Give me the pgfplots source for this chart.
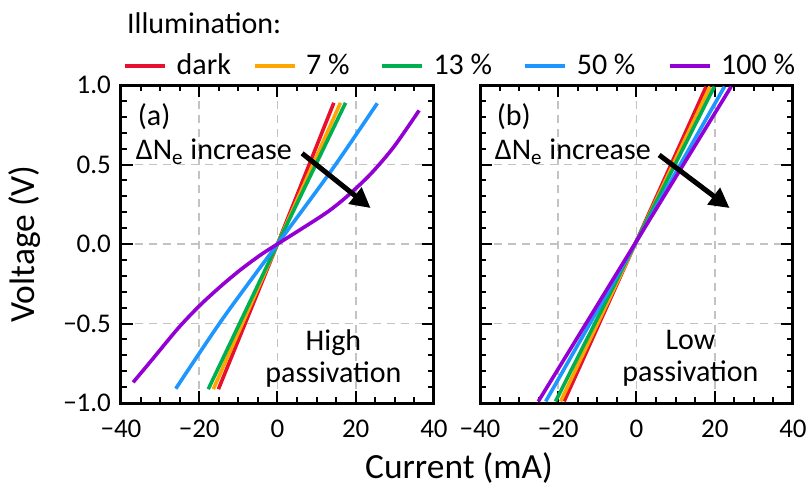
\documentclass[border=0pt]{standalone}
\usepackage{pgfplots}
\pgfplotsset{compat=1.18}
\usepackage{fontspec}
\setmainfont{Carlito}
\usetikzlibrary{arrows.meta}
\definecolor{cdark}{RGB}{232,17,45}
\definecolor{cseven}{RGB}{255,165,0}
\definecolor{cthirteen}{RGB}{0,176,80}
\definecolor{cfifty}{RGB}{30,150,255}
\definecolor{chundred}{RGB}{148,0,211}
\definecolor{gridgray}{RGB}{195,195,195}
\pgfplotsset{
  panel/.style={
    scale only axis, width=156.5pt, height=159pt,
    xmin=-40, xmax=40, ymin=-1, ymax=1,
    xtick={-40,-20,0,20,40}, ytick={-1,-0.5,0,0.5,1},
    minor x tick num=3, minor y tick num=4,
    tick align=inside, xtick pos=both, ytick pos=both,
    major tick length=6pt, minor tick length=3pt,
    every tick/.style={black, line width=1pt},
    axis line style={line width=1.5pt},
    grid=major,
    major grid style={gridgray, line width=0.8pt, dash pattern=on 4pt off 3pt},
    tick label style={font=\fontsize{13.5}{15}\selectfont},
    xticklabels={−40,−20,0,20,40},
    xticklabel style={yshift=-5pt},
    yticklabel style={xshift=-1.5pt},
    every axis plot/.append style={line width=1.8pt, mark=none},
    clip=true,
  },
}
\begin{document}
\begin{tikzpicture}
\useasboundingbox (-60.5pt,-42.5pt) rectangle (344pt,201.5pt);
\begin{axis}[panel, at={(0pt,0pt)}, anchor=south west,
  yticklabels={−1.0,−0.5,0.0,0.5,1.0},
  legend columns=5,
  legend style={at={(axis description cs:0.0064,1.06)}, anchor=west, draw=none, fill=none,
    inner sep=0pt, font=\fontsize{15}{17}\selectfont, nodes={inner sep=0pt, outer sep=0pt},
    cells={inner sep=0pt},
    /tikz/every odd column/.append style={column sep=4.85pt},
    /tikz/every even column/.append style={column sep=0pt}},
  legend image code/.code={\draw[#1, line width=1.8pt] (0pt,0pt) -- (20pt,0pt);},
]
\addplot[cdark] coordinates {(-15.1,-0.913) (0,0) (14.4,0.888)};
\addlegendentry{\makebox[38.1pt][l]{dark}}
\addplot[cseven] coordinates {(-16.4,-0.913) (0,0) (16.1,0.888)};
\addlegendentry{\makebox[37pt][l]{7 \%}}
\addplot[cthirteen] coordinates {(-17.7,-0.913) (0,0) (17.4,0.888)};
\addlegendentry{\makebox[45pt][l]{13 \%}}
\addplot[cfifty, smooth] coordinates {(-26,-0.91) (-14,-0.47) (0,0) (14,0.47) (25.5,0.885)};
\addlegendentry{\makebox[45.5pt][l]{50 \%}}
\addplot[chundred, smooth] coordinates {(-36.9,-0.87) (-31.8,-0.72) (-25.4,-0.53) (-20,-0.39) (-14.7,-0.27) (-9.6,-0.165) (-4.4,-0.07) (0,0) (5.8,0.09) (12.7,0.20) (17.8,0.30) (23.8,0.44) (29.7,0.61) (36.2,0.84)};
\addlegendentry{\makebox[38.5pt][l]{100 \%}}
\node[anchor=west, inner sep=0pt, font=\fontsize{15}{17}\selectfont] at (axis cs:-35.8,0.80) {(a)};
\node[anchor=west, inner sep=0pt, font=\fontsize{15}{17}\selectfont] at (axis cs:-36.3,0.58) {ΔN\textsubscript{e} increase};
\draw[line width=2.5pt, -{Triangle[length=10pt,width=10pt]}] (axis cs:6.3,0.57) -- (axis cs:23.8,0.226);
\node[align=center, inner sep=0pt, font=\fontsize{15}{16}\selectfont] at (axis cs:14.3,-0.72) {High\\passivation};
\end{axis}
\begin{axis}[panel, at={(179.5pt,0pt)}, anchor=south west,
  yticklabels={},
]
\addplot[cdark] coordinates {(-18.5,-0.99) (17.8,0.99)};
\addplot[cseven] coordinates {(-19.4,-0.99) (18.8,0.99)};
\addplot[cthirteen] coordinates {(-20.7,-0.99) (19.9,0.99)};
\addplot[cfifty] coordinates {(-23.2,-0.99) (22.5,0.99)};
\addplot[chundred] coordinates {(-25.1,-0.99) (24.2,0.99)};
\node[anchor=west, inner sep=0pt, font=\fontsize{15}{17}\selectfont] at (axis cs:-35.8,0.80) {(b)};
\node[anchor=west, inner sep=0pt, font=\fontsize{15}{17}\selectfont] at (axis cs:-36.3,0.58) {ΔN\textsubscript{e} increase};
\draw[line width=2.5pt, -{Triangle[length=10pt,width=10pt]}] (axis cs:5.8,0.56) -- (axis cs:23.8,0.226);
\node[align=center, inner sep=0pt, font=\fontsize{15}{16}\selectfont] at (axis cs:13.8,-0.72) {Low\\passivation};
\end{axis}
\node[anchor=base west, inner sep=0pt, font=\fontsize{15}{17}\selectfont] at (2.85pt,184.9pt) {Illumination:};
\node[anchor=base, inner sep=0pt, font=\fontsize{17.7}{20}\selectfont] at (169pt,-37.6pt) {Current (mA)};
\node[anchor=base, rotate=90, inner sep=0pt, font=\fontsize{17.7}{20}\selectfont] at (-43pt,79.5pt) {Voltage (V)};
\end{tikzpicture}
\end{document}
